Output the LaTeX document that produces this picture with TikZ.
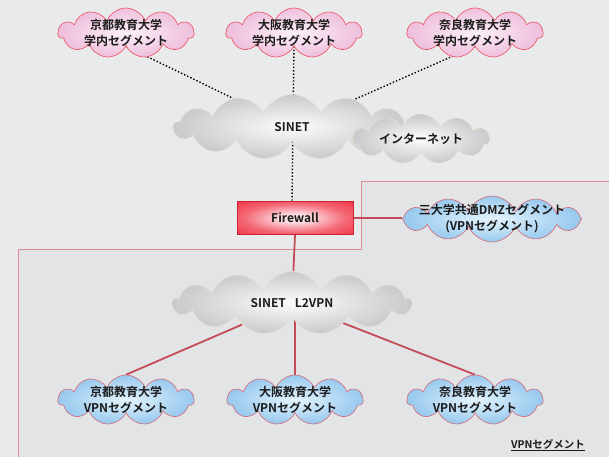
\documentclass[tikz,border=0pt]{standalone}
\usepackage{fontspec}
\newfontfamily\jpfont{Noto Sans CJK JP}[BoldFont={Noto Sans CJK JP Bold}]
\usetikzlibrary{shapes.symbols}

\definecolor{bgcol}{RGB}{233,234,236}
\definecolor{regioncol}{RGB}{227,228,230}
\definecolor{regionline}{RGB}{222,140,148}
\definecolor{pinkin}{RGB}{252,240,248}
\definecolor{pinkout}{RGB}{238,190,220}
\definecolor{pinkline}{RGB}{236,80,92}
\definecolor{bluein}{RGB}{228,244,253}
\definecolor{blueout}{RGB}{150,200,238}
\definecolor{blueline}{RGB}{214,104,118}
\definecolor{grayin}{RGB}{252,252,252}
\definecolor{grayout}{RGB}{200,201,203}
\definecolor{grayline}{RGB}{232,222,206}
\definecolor{fwin}{RGB}{252,222,228}
\definecolor{fwout}{RGB}{240,40,58}
\definecolor{wirecol}{RGB}{196,76,88}
\definecolor{txtcol}{RGB}{28,28,28}

\pgfdeclareradialshading{fwshade}{\pgfpoint{0bp}{0bp}}{%
  color(0bp)=(fwin); color(6bp)=(fwin); color(22bp)=(fwout!65!fwin);
  color(40bp)=(fwout); color(100bp)=(fwout)}

\pgfdeclarelayer{back}
\pgfdeclarelayer{wires}
\pgfsetlayers{back,wires,main}

\tikzset{
  segtext/.style={align=center, text=txtcol, inner sep=0pt,
    font=\jpfont\bfseries\fontsize{12}{16}\selectfont},
  seg/.style={cloud, cloud puffs=11, cloud puff arc=135, aspect=2.7,
    line width=0.6pt, inner sep=0pt, label={[segtext]center:{#1}}},
  campus/.style={seg={#1}, draw=pinkline, inner color=pinkin, outer color=pinkout,
    minimum width=136pt, minimum height=50pt},
  vpnseg/.style={seg={#1}, draw=blueline, inner color=bluein, outer color=blueout,
    minimum width=136pt, minimum height=50pt},
  net/.style={seg={#1}, cloud puffs=13, draw=grayline, inner color=grayin,
    outer color=grayout},
  fwbox/.style={rectangle, draw=fwout!85!black, line width=0.5pt,
    shading=fwshade, minimum width=116pt,
    minimum height=33pt, text=txtcol,
    font=\jpfont\bfseries\fontsize{12}{14}\selectfont},
  dotwire/.style={black, line width=1.4pt, dotted},
  redwire/.style={wirecol, line width=1.8pt}
}

\begin{document}
\begin{tikzpicture}[x=1pt, y=-1pt]
  \useasboundingbox (0,0) rectangle (609,457);
  \begin{pgfonlayer}{back}
    \fill[bgcol] (0,0) rectangle (609,457);
    % VPN segment area
    \fill[regioncol] (18,457) -- (18,249) -- (361,249) -- (361,181)
      -- (609,181) -- (609,457) -- cycle;
    \draw[regionline, line width=0.6pt] (18,457) -- (18,249) -- (361,249)
      -- (361,181) -- (609,181);
  \end{pgfonlayer}

  % campus segments
  \node[campus={京都教育大学\\学内セグメント}] (kyotoin) at (126,33) {};
  \node[campus={大阪教育大学\\学内セグメント}] (osakain) at (294,33) {};
  \node[campus={奈良教育大学\\学内セグメント}] (narain) at (475,33) {};

  % networks
  \node[net={SINET}, aspect=3.6, minimum width=237pt, minimum height=65pt]
    (sinet) at (292,127) {};
  \node[net={インターネット}, cloud puffs=11, minimum width=137pt, minimum height=50pt]
    (inet) at (421,139) {};

  \node[fwbox, shade] (fw) at (295,218) {Firewall};
  \node[vpnseg={三大学共通DMZセグメント\\(VPNセグメント)}, aspect=3.9,
    cloud puffs=12, minimum width=179pt, minimum height=46pt] (dmz) at (492,219) {};

  \node[net={SINET\hspace{9pt}L2VPN}, aspect=3.8, minimum width=239pt,
    minimum height=63pt] (l2vpn) at (292,303) {};

  % VPN segments
  \node[vpnseg={京都教育大学\\VPNセグメント}] (kyotovpn) at (126,400) {};
  \node[vpnseg={大阪教育大学\\VPNセグメント}] (osakavpn) at (295,400) {};
  \node[vpnseg={奈良教育大学\\VPNセグメント}] (naravpn) at (475,400) {};

  \node[segtext, font=\jpfont\bfseries\fontsize{10.5}{12}\selectfont]
    (vpnlabel) at (548,445) {\underline{VPNセグメント}};

  \begin{pgfonlayer}{wires}
    \draw[dotwire] (kyotoin.south) -- (sinet);
    \draw[dotwire] (osakain.south) -- (sinet.center |- fw.north);
    \draw[dotwire] (narain.south) -- (sinet);
    \draw[redwire] (fw.east) -- (dmz.west |- fw.east);
    \draw[redwire] (fw.south) -- (l2vpn);
    \draw[redwire] (kyotovpn.north) -- (l2vpn);
    \draw[redwire] (osakavpn.north) -- (l2vpn.center -| osakavpn.north);
    \draw[redwire] (naravpn.north) -- (l2vpn);
  \end{pgfonlayer}
\end{tikzpicture}
\end{document}
